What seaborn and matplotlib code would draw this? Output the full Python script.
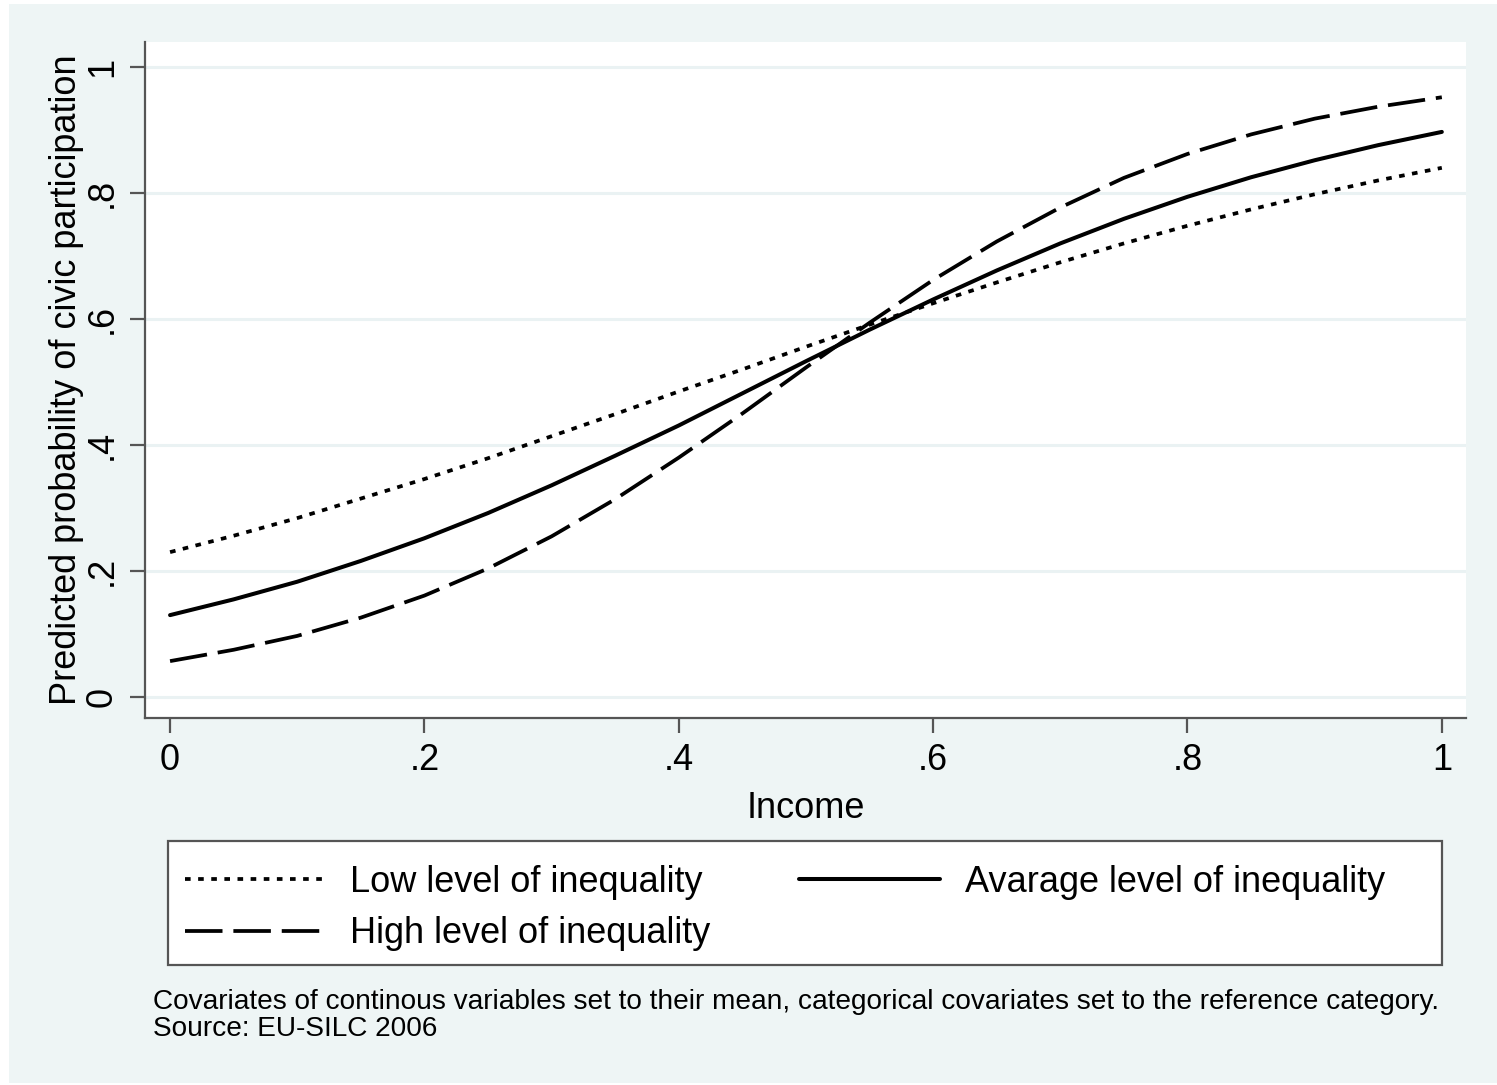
import matplotlib
matplotlib.use("Agg")
import matplotlib.pyplot as plt
from matplotlib.patches import Rectangle
import numpy as np
import pandas as pd
import seaborn as sns

# Predicted probabilities by income, read at steps of 0.05
income = [0.00, 0.05, 0.10, 0.15, 0.20, 0.25, 0.30, 0.35, 0.40, 0.45, 0.50,
          0.55, 0.60, 0.65, 0.70, 0.75, 0.80, 0.85, 0.90, 0.95, 1.00]
low_ineq = [0.230, 0.256, 0.284, 0.315, 0.346, 0.379, 0.414, 0.449, 0.485, 0.520, 0.556,
            0.591, 0.625, 0.658, 0.690, 0.720, 0.748, 0.774, 0.798, 0.820, 0.840]
avg_ineq = [0.130, 0.155, 0.183, 0.216, 0.252, 0.292, 0.336, 0.383, 0.431, 0.482, 0.533,
            0.583, 0.631, 0.677, 0.720, 0.759, 0.794, 0.825, 0.852, 0.876, 0.897]
high_ineq = [0.057, 0.075, 0.097, 0.126, 0.161, 0.204, 0.255, 0.314, 0.380, 0.450, 0.523,
             0.594, 0.662, 0.723, 0.777, 0.824, 0.862, 0.893, 0.918, 0.937, 0.952]

series_labels = ["Low level of inequality", "Avarage level of inequality",
                 "High level of inequality"]
x_ticks = [0, 0.2, 0.4, 0.6, 0.8, 1.0]
x_ticklabels = ["0", ".2", ".4", ".6", ".8", "1"]
y_ticks = [0, 0.2, 0.4, 0.6, 0.8, 1.0]
y_ticklabels = ["0", ".2", ".4", ".6", ".8", "1"]
note_text = ("Covariates of continous variables set to their mean, categorical "
             "covariates set to the reference category.\nSource: EU-SILC 2006")

sns.set_theme(style="ticks")
plt.rcParams["font.family"] = ["Liberation Sans", "DejaVu Sans"]

W, H = 1497, 1085
bg = "#eef5f5"
fig = plt.figure(figsize=(W / 100, H / 100), dpi=100, facecolor=bg)

# thin white border along the top, left and bottom edges
for rect in [(0, 1 - 4 / H, 1, 4 / H), (0, 0, 9 / W, 1), (0, 0, 1, 2 / H)]:
    fig.patches.append(Rectangle(rect[:2], rect[2], rect[3], transform=fig.transFigure,
                                 facecolor="white", edgecolor="none", zorder=0))

left, right, top, bottom = 145, 1466, 42, 718
ax = fig.add_axes([left / W, 1 - bottom / H, (right - left) / W, (bottom - top) / H])
ax.set_facecolor("white")

df = pd.DataFrame({
    "income": income * 3,
    "prob": low_ineq + avg_ineq + high_ineq,
    "group": [series_labels[0]] * len(income) + [series_labels[1]] * len(income)
             + [series_labels[2]] * len(income),
})

styles = {
    series_labels[0]: dict(linestyle=(0, (1.5, 2.0)), lw=2.7),
    series_labels[1]: dict(linestyle="-", lw=2.9),
    series_labels[2]: dict(linestyle=(0, (10, 2.9)), lw=2.7),
}
lines = {}
for lab in series_labels:
    sub = df[df["group"] == lab]
    sns.lineplot(data=sub, x="income", y="prob", ax=ax, color="black",
                 label=lab, legend=False, **styles[lab])
    lines[lab] = ax.get_lines()[-1]
    lines[lab].set_dash_capstyle("butt")

ax.set_xlim(-0.0197, 1.019)
ax.set_ylim(-0.0333, 1.0397)

for yv in y_ticks:
    ax.axhline(yv, color="#eaf2f3", lw=2.2, zorder=0.5)

for side in ["top", "right"]:
    ax.spines[side].set_visible(False)
for side in ["left", "bottom"]:
    ax.spines[side].set_color("#555555")
    ax.spines[side].set_linewidth(1.6)

ax.set_xticks(x_ticks)
ax.set_xticklabels(x_ticklabels)
ax.set_yticks(y_ticks)
ax.set_yticklabels(y_ticklabels)
ax.tick_params(axis="both", length=11, width=1.6, color="#555555", pad=7,
               labelsize=26, labelcolor="black", left=True, bottom=True,
               right=False, top=False)
for t in ax.get_yticklabels():
    t.set_rotation(90)
    t.set_va("center")
    t.set_ha("right")

ax.set_xlabel("Income", fontsize=26, labelpad=9, color="black")
ax.set_ylabel("Predicted probability of civic participation", fontsize=26,
              labelpad=1, color="black")

# legend box below the axes
lx0, ly0, lx1, ly1 = 168, 841, 1442, 965
fig.patches.append(Rectangle((lx0 / W, 1 - ly1 / H), (lx1 - lx0) / W, (ly1 - ly0) / H,
                             transform=fig.transFigure, facecolor="white",
                             edgecolor="#555555", lw=1.6, zorder=1))
handles = [lines[series_labels[0]], lines[series_labels[2]], lines[series_labels[1]]]
labels = [series_labels[0], series_labels[2], series_labels[1]]
leg = fig.legend(handles, labels, loc="upper left",
                 bbox_to_anchor=(185 / W, 1 - 865 / H), ncol=2, frameon=False,
                 fontsize=26, handlelength=3.9, handletextpad=0.68,
                 columnspacing=2.45, labelspacing=0.45, borderpad=0,
                 borderaxespad=0)
for txt in leg.get_texts():
    txt.set_color("black")
leg.set_zorder(2)

fig.text(153 / W, 1 - 1042 / H, note_text, fontsize=20.2, ha="left", va="bottom",
         linespacing=1.05, color="black")

fig.savefig("out.png", dpi=100, facecolor=fig.get_facecolor())
